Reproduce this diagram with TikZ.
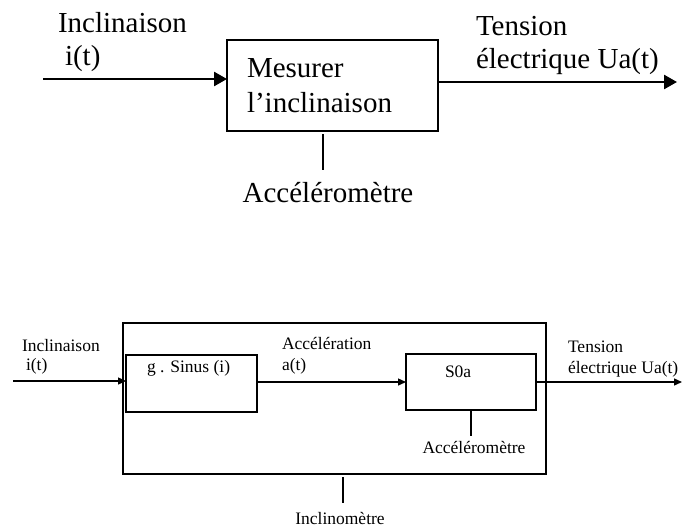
\documentclass[tikz,border=0pt]{standalone}
\usepackage{fontspec}
\setmainfont{Liberation Serif}
\usetikzlibrary{arrows.meta}
\begin{document}
\begin{tikzpicture}[x=1pt,y=-1pt,
  big/.style={font=\fontsize{29}{35}\selectfont, inner sep=0pt, outer sep=0pt},
  small/.style={font=\fontsize{17.5}{21}\selectfont, inner sep=0pt, outer sep=0pt},
  bigbox/.style={draw, line width=2pt, inner sep=0pt, outer sep=0pt},
  smallbox/.style={draw, line width=1.2pt, inner sep=0pt, outer sep=0pt},
  outerbox/.style={draw, line width=1.5pt, inner sep=0pt, outer sep=0pt},
  bigarr/.style={line width=2.5pt, -{Triangle[length=13pt,width=14pt]}},
  smallarr/.style={line width=1.4pt, -{Triangle[length=8pt,width=7pt]}},
  tick/.style={line width=1.3pt},
]
\useasboundingbox (0,0) rectangle (685,530);

% ---------- top diagram ----------
\node[bigbox, minimum width=211pt, minimum height=91pt] (mbox) at (332.5,85.5) {};
\node[big, anchor=base west] (t1) at (247,77) {Mesurer};
\node[big, anchor=base west] (t2) at (247,112) {l'inclinaison};

\node[big, anchor=base west] (inA) at (58,32) {Inclinaison};
\node[big, anchor=base west] (inB) at (65,65) {i(t)};
\node[big, anchor=base west] (outA) at (476,35) {Tension};
\node[big, anchor=base west] (outB) at (476,68) {électrique Ua(t)};
\node[big, anchor=base] (acc) at (328,202) {Accéléromètre};

\coordinate (i1) at (43,79);
\draw[bigarr] (i1) -- (i1 -| mbox.west);
\coordinate (o1) at (677,82);
\draw[bigarr] (o1 -| mbox.east) -- (o1);
\coordinate (v1) at (323,170);
\draw[tick] ([yshift=-3pt]v1 |- mbox.south) -- (v1);

% ---------- bottom diagram ----------
\node[outerbox, minimum width=423pt, minimum height=151pt] (outer) at (334.5,398.5) {};
\node[smallbox, minimum width=131pt, minimum height=57pt] (b1) at (191.5,383.5) {};
\node[smallbox, minimum width=130pt, minimum height=56pt] (b2) at (471,382) {};
\node[small, anchor=base west] (b1t) at (147,372) {g . Sinus (i)};
\node[small, anchor=base west] (b2t) at (445,377) {S0a};

\node[small, anchor=base west] (inC) at (22,351) {Inclinaison};
\node[small, anchor=base west] (inD) at (26,370) {i(t)};
\node[small, anchor=base west] (acA) at (282,349) {Accélération};
\node[small, anchor=base west] (acB) at (282,370) {a(t)};
\node[small, anchor=base west] (outC) at (568,352) {Tension};
\node[small, anchor=base west] (outD) at (568,373) {électrique Ua(t)};
\node[small, anchor=base] (acc2) at (474,453) {Accéléromètre};
\node[small, anchor=base] (incl) at (340,524) {Inclinomètre};

\coordinate (i2) at (13,381);
\draw[smallarr] (i2) -- (i2 -| b1.west);
\coordinate (m2) at (0,382);
\draw[smallarr] (m2 -| b1.east) -- (m2 -| b2.west);
\coordinate (o2) at (682,382);
\draw[smallarr] (o2 -| b2.east) -- (o2);
\coordinate (v2) at (471,436);
\draw[tick] (v2 |- b2.south) -- (v2);
\coordinate (v3) at (343,503);
\draw[tick] ([yshift=-3pt]v3 |- outer.south) -- (v3);
\end{tikzpicture}
\end{document}
